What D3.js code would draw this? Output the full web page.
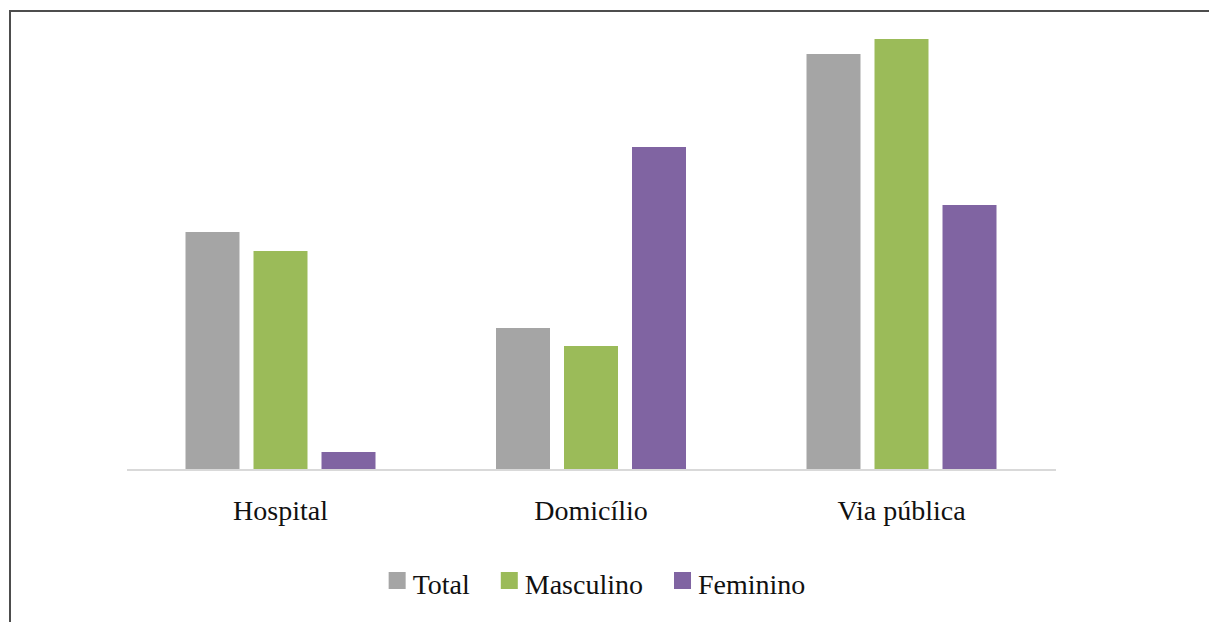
<!DOCTYPE html>
<html>
<head>
<meta charset="utf-8">
<script src="https://cdn.jsdelivr.net/npm/d3@7"></script>
<style>
  html, body { margin: 0; padding: 0; background: #fff; overflow: hidden; }
  svg { display: block; }
  text { font-family: "Liberation Serif", "DejaVu Serif", serif; fill: #111; }
</style>
</head>
<body>
<script>
// Place of occurrence, grouped by sex
const categories = ["Hospital", "Domicílio", "Via pública"];
const seriesNames = ["Total", "Masculino", "Feminino"];
const totalValues = [23.7, 14.1, 41.5];
const masculinoValues = [21.8, 12.3, 43.0];
const femininoValues = [1.7, 32.2, 26.4];
const seriesColors = ["#a5a5a5", "#9bbb59", "#8064a2"];

const seriesValues = [totalValues, masculinoValues, femininoValues];
const rows = categories.map((c, i) => ({
  category: c,
  values: seriesNames.map((s, j) => ({ series: s, value: seriesValues[j][i] }))
}));

const width = 1209, height = 622;
const svg = d3.select("body").append("svg")
  .attr("width", width).attr("height", height);

// Outer frame (only the top and left edges fall inside the view)
svg.append("rect")
  .attr("x", 10).attr("y", 11)
  .attr("width", 1400).attr("height", 800)
  .attr("fill", "none")
  .attr("stroke", "#4d4d4d")
  .attr("stroke-width", 2);

const baseline = 469;
const x0 = d3.scaleBand().domain(categories).range([125.25, 1056.75]).padding(0);
const groupWidth = 190;
const x1 = d3.scaleBand().domain(seriesNames).range([0, groupWidth])
  .paddingInner(0.206).paddingOuter(0);
const y = d3.scaleLinear().domain([0, 45]).range([baseline, baseline - 450]);
const color = d3.scaleOrdinal().domain(seriesNames).range(seriesColors);

// Bars
const groups = svg.append("g").selectAll("g")
  .data(rows).join("g")
  .attr("transform", d => `translate(${x0(d.category) + (x0.bandwidth() - groupWidth) / 2},0)`);

groups.selectAll("rect")
  .data(d => d.values).join("rect")
  .attr("x", d => x1(d.series))
  .attr("width", x1.bandwidth())
  .attr("y", d => y(d.value))
  .attr("height", d => y(0) - y(d.value))
  .attr("fill", d => color(d.series));

// Category axis line and labels
const xAxis = svg.append("g")
  .attr("transform", `translate(0,${baseline + 1})`)
  .call(d3.axisBottom(x0).tickSize(0).tickPadding(50));
xAxis.select(".domain").attr("stroke", "#d9d9d9").attr("stroke-width", 2)
  .attr("d", `M127,0H1056`);
xAxis.selectAll("text")
  .attr("font-family", "'Liberation Serif', serif")
  .attr("font-size", 28)
  .attr("fill", "#111")
  .attr("dy", "0");

// Legend
const legend = svg.append("g");
const items = legend.selectAll("g").data(seriesNames).join("g");
items.append("rect")
  .attr("width", 17).attr("height", 17)
  .attr("y", -22)
  .attr("fill", d => color(d));
items.append("text")
  .attr("x", 24)
  .attr("font-size", 28)
  .text(d => d);

let cursor = 0;
items.each(function() {
  const g = d3.select(this);
  g.attr("transform", `translate(${cursor},0)`);
  const w = 24 + g.select("text").node().getComputedTextLength();
  cursor += w + 31;
});
const legendWidth = cursor - 31;
legend.attr("transform", `translate(${597 - legendWidth / 2},594)`);
</script>
</body>
</html>
